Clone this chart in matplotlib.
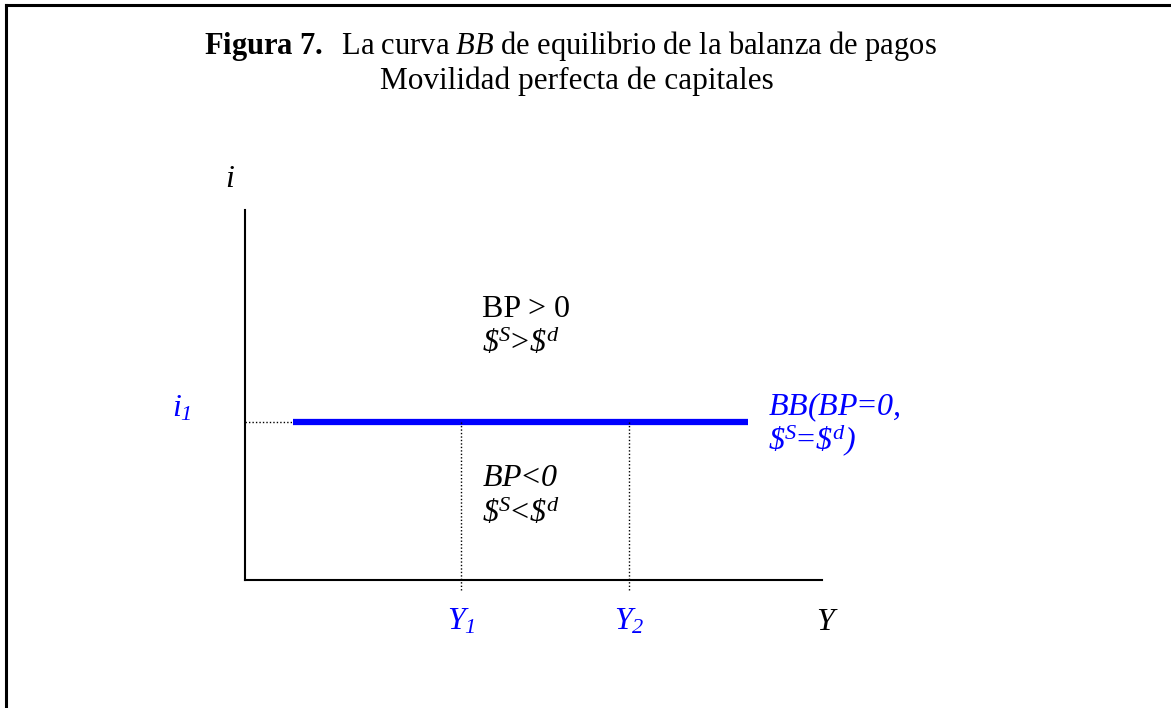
import matplotlib
matplotlib.use("Agg")
import matplotlib.pyplot as plt
from matplotlib.lines import Line2D

plt.rcParams["font.family"] = "Liberation Serif"
plt.rcParams["mathtext.fontset"] = "custom"
plt.rcParams["mathtext.rm"] = "Liberation Serif"
plt.rcParams["mathtext.it"] = "Liberation Serif:italic"
plt.rcParams["mathtext.bf"] = "Liberation Serif:bold"
# sf slot used for italic digits and dollar signs
plt.rcParams["mathtext.sf"] = "Liberation Serif:italic"

# diagram values (axis units 0..10)
i1 = 4.27
bb_x = [0.83, 8.72]
y_levels = [3.74, 6.66]
y_labels = [r"$Y_{\mathsf{1}}$", r"$Y_{\mathsf{2}}$"]
blue = "#0000ff"
fs = 23

fig = plt.figure(figsize=(11.71, 7.08), dpi=100, facecolor="w")

# frame of the figure box (top and left edges)
fig.add_artist(Line2D([6/1171, 1], [1 - 5/708, 1 - 5/708], color="k", lw=2.2, transform=fig.transFigure))
fig.add_artist(Line2D([6/1171, 6/1171], [0, 1 - 5/708], color="k", lw=2.2, transform=fig.transFigure))

fig.text(0.487, 1 - 54/708,
         r"$\mathbf{Figura\ 7.}\ \ \mathrm{La\ curva\ }\mathit{BB}\mathrm{\ de\ equilibrio\ de\ la\ balanza\ de\ pagos}$",
         ha="center", va="baseline", fontsize=22)
fig.text(0.493, 1 - 89/708, "Movilidad perfecta de capitales",
         ha="center", va="baseline", fontsize=22.5)

ax = fig.add_axes([245/1171, (708-580)/708, (822-245)/1171, (580-210)/708])
ax.set_xlim(0, 10)
ax.set_ylim(0, 10)
for s in ["top", "right"]:
    ax.spines[s].set_visible(False)
ax.spines["left"].set_linewidth(1.5)
ax.spines["bottom"].set_linewidth(1.5)
ax.set_xticks([])
ax.set_yticks([])
ax.patch.set_alpha(0)

# BB curve
ax.plot(bb_x, [i1, i1], color=blue, lw=4.5, solid_capstyle="butt")
ax.plot([0, bb_x[0]], [i1, i1], color="k", lw=1, ls=(0, (1, 1.5)))
for yv in y_levels:
    ax.plot([yv, yv], [-0.27, i1], color="k", lw=1, ls=(0, (1, 1.5)), clip_on=False)

# labels
ax.text(-0.26, 10.62, r"$i$", fontsize=fs, ha="center", va="baseline")
ax.text(-1.1, 4.42, r"$i_{\mathsf{1}}$", fontsize=fs, color=blue, ha="center", va="baseline")
ax.text(4.1, 7.1, "BP > 0", fontsize=fs, ha="left", va="baseline")
ax.text(4.1, 6.15, r"$\mathsf{\$}^S\!>\!\mathsf{\$}^d$", fontsize=fs, ha="left", va="baseline")
ax.text(4.1, 2.55, r"$BP\!<\!\mathsf{0}$", fontsize=fs, ha="left", va="baseline")
ax.text(4.1, 1.57, r"$\mathsf{\$}^S\!<\!\mathsf{\$}^d$", fontsize=fs, ha="left", va="baseline")
ax.text(9.06, 4.46, r"$BB\mathsf{(}BP\!=\!\mathsf{0,}$", fontsize=fs, color=blue, ha="left", va="baseline")
ax.text(9.06, 3.51, r"$\mathsf{\$}^S\!=\!\mathsf{\$}^d\mathsf{)}$", fontsize=fs, color=blue, ha="left", va="baseline")
for yv, lab in zip(y_levels, y_labels):
    ax.text(yv, -1.35, lab, fontsize=fs, color=blue, ha="center", va="baseline")
ax.text(10.1, -1.35, r"$Y$", fontsize=fs, ha="center", va="baseline")

fig.savefig("out.png", dpi=100, facecolor="w")
